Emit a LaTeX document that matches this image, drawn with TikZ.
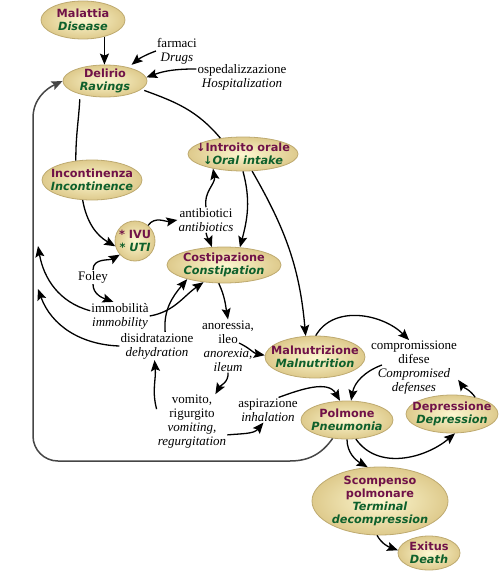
\documentclass[tikz,border=0pt]{standalone}
\usepackage{fontspec}
\setmainfont{Liberation Serif}
\newfontfamily\ellfont{DejaVu Sans}
\usetikzlibrary{shapes.geometric,arrows.meta,calc}
\definecolor{mar}{RGB}{112,18,72}
\definecolor{grn}{RGB}{14,96,44}
\definecolor{ellin}{RGB}{252,247,208}
\definecolor{ellout}{RGB}{222,202,140}
\definecolor{ellbd}{RGB}{190,170,112}
\definecolor{loopc}{RGB}{70,70,70}
\newcommand\twol[2]{\textcolor{mar}{#1}\\\textcolor{grn}{\itshape #2}}
\begin{document}
\begin{tikzpicture}[x=1pt,y=-1pt,
 ell/.style={ellipse, draw=ellbd, line width=0.8pt, inner color=ellin, outer color=ellout,
   inner xsep=-20pt, inner ysep=-6pt, align=center,
   font=\ellfont\bfseries\fontsize{11.3}{12.8}\selectfont},
 txt/.style={align=center, inner sep=1pt, font=\fontsize{13}{14}\selectfont},
 con/.style={line width=1.3pt, -{Stealth[length=11pt,width=9pt,inset=2pt]}},
 lin/.style={line width=1.3pt},
 loopst/.style={line width=1.5pt, draw=loopc, -{Stealth[length=11pt,width=9pt,inset=2pt]}},
]
\fill[white] (0,0) rectangle (500,578);
\useasboundingbox (0,0) rectangle (500,578);

% ellipse nodes
\node[ell, minimum width=84pt, minimum height=38pt] (malattia) at (83,20) {\twol{Malattia}{Disease}};
\node[ell, minimum width=84pt, minimum height=32pt] (delirio) at (105,81) {\twol{Delirio}{Ravings}};
\node[ell, minimum width=110pt, minimum height=34pt] (introito) at (243,154) {\twol{↓Introito orale}{↓Oral intake}};
\node[ell, minimum width=100pt, minimum height=40pt] (incont) at (92,180) {\twol{Incontinenza}{Incontinence}};
\node[ell, minimum width=40pt, minimum height=40pt] (ivu) at (135,241) {\textcolor{mar}{* IVU}\\\textcolor{grn}{* \itshape UTI}};
\node[ell, minimum width=114pt, minimum height=36pt] (costip) at (224,265) {\twol{Costipazione}{Constipation}};
\node[ell, minimum width=100pt, minimum height=42pt] (malnut) at (315,357) {\twol{Malnutrizione}{Malnutrition}};
\node[ell, minimum width=92pt, minimum height=38pt] (polmone) at (347,420) {\twol{Polmone}{Pneumonia}};
\node[ell, minimum width=92pt, minimum height=38pt] (depress) at (452,414) {\twol{Depressione}{Depression}};
\node[ell, minimum width=136pt, minimum height=68pt] (scomp) at (380,501) {\textcolor{mar}{Scompenso}\\\textcolor{mar}{polmonare}\\\textcolor{grn}{\itshape Terminal}\\\textcolor{grn}{\itshape decompression}};
\node[ell, minimum width=62pt, minimum height=34pt] (exitus) at (429,553) {\twol{Exitus}{Death}};

% text nodes
\node[txt] (farmaci) at (177,51) {farmaci\\\textit{Drugs}};
\node[txt] (osped) at (242,77) {ospedalizzazione\\\textit{Hospitalization}};
\node[txt] (antib) at (206,220) {antibiotici\\\textit{antibiotics}};
\node[txt] (foley) at (93,277) {Foley};
\node[txt] (immob) at (120,316) {immobilità\\\textit{immobility}};
\node[txt] (disidr) at (157,346) {disidratazione\\\textit{dehydration}};
\node[txt] (anor) at (228,346) {anoressia,\\ileo\\\textit{anorexia,}\\\textit{ileum}};
\node[txt] (vomito) at (192,422) {vomito,\\rigurgito\\\textit{vomiting,}\\\textit{regurgitation}};
\node[txt] (aspir) at (268,410) {aspirazione\\\textit{inhalation}};
\node[txt] (comprom) at (414,368) {compromissione\\difese\\\textit{Compromised}\\\textit{defenses}};

% free ends and loop corner points
\coordinate (t1) at (38,246);
\coordinate (t2) at (38,289);
\coordinate (b1) at (290,461);
\coordinate (b2a) at (58,461);
\coordinate (b2b) at (33,436);
\coordinate (b3) at (33,118);

% connectors
\draw[con] (malattia.-38) -- (malattia.-38 |- delirio.north);
\draw[con, shorten >=4pt] (farmaci.west) to[out=200,in=40] (delirio.30);
\draw[con] (osped.170) to[out=180,in=20] (delirio.5);
\draw[lin, shorten <=3pt] (delirio.-13) to[out=-20,in=130] (introito.145);
\draw[lin, shorten <=5pt] (delirio.208) to[out=-93,in=90] (incont.130);
\draw[con] (incont.-115) to[out=-80,in=150] (ivu.195);
\draw[con] (ivu.50) to[out=55,in=190] (antib.west);
\draw[con] (antib.north) to[out=100,in=-80] (introito.206);
\draw[con] (antib.south) to[out=-80,in=110] (costip.124);
\draw[con] (introito.south) to[out=-75,in=75] (costip.48);
\draw[con] (introito.-62) to[out=-60,in=95] (malnut.114);
\draw[con] (foley.north) to[out=90,in=210] (ivu.222);
\draw[con] (foley.south) to[out=-90,in=160] (immob.115);
\draw[con] (immob.170) to[out=165,in=-80] (t1);
\draw[con] (immob.east) to[out=10,in=215] (costip.220);
\draw[con] (disidr.60) to[out=95,in=230] (costip.201);
\draw[con] (disidr.west) to[out=178,in=-70] (t2);
\draw[con] (costip.254) to[out=-65,in=100] (anor.north);
\draw[con] ($(anor.center)+(11,-3)$) to[out=-25,in=170] (malnut.178);
\draw[con] (anor.south) to[out=-85,in=60] (vomito.50);
\draw[con] (vomito.160) to[out=105,in=-85] (disidr.260);
\draw[con] (vomito.-20) to[out=5,in=230] (aspir.250);
\draw[con] (aspir.50) to[out=20,in=120] (polmone.110);
\draw[con] (malnut.88) to[out=60,in=135] (comprom.100);
\draw[con] ($(comprom.center)+(-32,-3)$) to[out=200,in=80] (polmone.78);
\draw[con] (depress.36) to[out=125,in=-55] (comprom.-15);
\draw[con] (polmone.-65) to[out=-55,in=-140] (depress.-81);
\draw[con] (polmone.south) to[out=-90,in=150] (scomp.110);
\draw[con] (scomp.-95) to[out=-60,in=160] (exitus.175);
\draw[loopst] (polmone.232) to[out=235,in=0] (b1) -- (b2a) to[out=180,in=-90] (b2b) -- (b3) to[out=90,in=205] (delirio.180);
\end{tikzpicture}
\end{document}
